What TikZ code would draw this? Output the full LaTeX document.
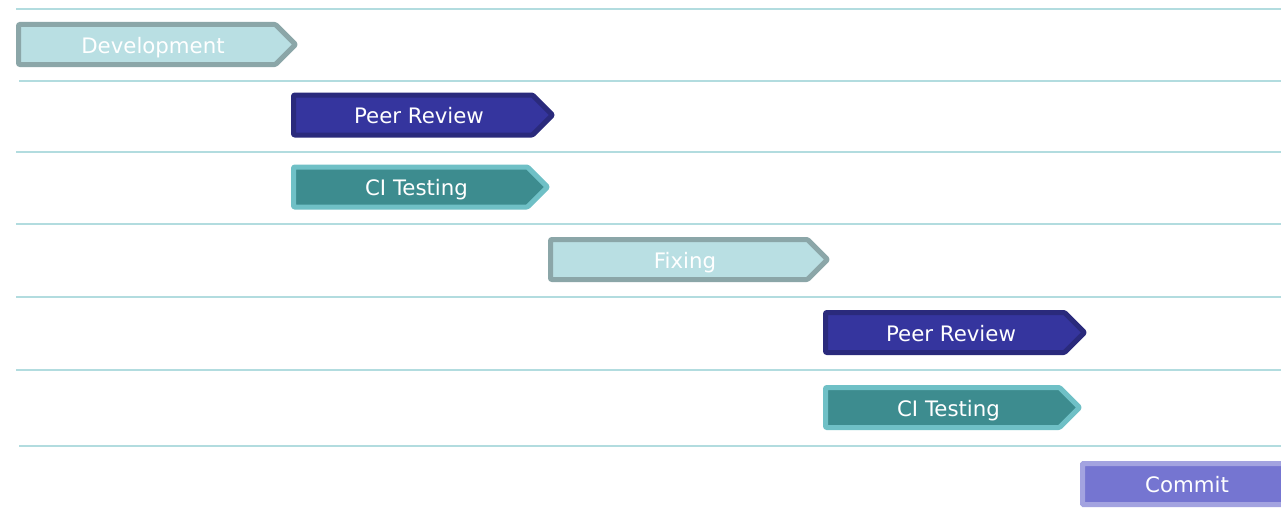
\documentclass[tikz,border=0pt]{standalone}
\usepackage{fontspec}
\setmainfont{DejaVu Sans}
\usetikzlibrary{shapes.symbols}

\definecolor{gridline}{HTML}{B2DCDF}
\definecolor{devfill}{HTML}{B9DFE3}
\definecolor{devdraw}{HTML}{8BA6A8}
\definecolor{revfill}{HTML}{35359E}
\definecolor{revdraw}{HTML}{2A2A7C}
\definecolor{cifill}{HTML}{3D8C8F}
\definecolor{cidraw}{HTML}{6FC0C6}
\definecolor{comfill}{HTML}{7575D1}
\definecolor{comdraw}{HTML}{A3A3E0}

\tikzset{
  grid line/.style={gridline, line width=2pt},
  stage/.style={signal, signal to=east, signal pointer angle=90,
    minimum height=40pt, line width=5pt, line join=round, rounded corners=1pt,
    text=white, font=\fontsize{21.3}{25}\selectfont, anchor=west, inner sep=0pt,
    text height=17pt, text depth=0pt, execute at begin node=\hspace*{12pt}},
  devstage/.style={stage, fill=devfill, draw=devdraw, minimum width=277pt},
  revstage/.style={stage, fill=revfill, draw=revdraw, minimum width=259pt},
  cistage/.style={stage, fill=cifill, draw=cidraw, minimum width=254pt},
  comstage/.style={rectangle, fill=comfill, draw=comdraw, line width=5pt,
    rounded corners=1pt, minimum height=41pt, minimum width=240pt,
    text=white, font=\fontsize{21.3}{25}\selectfont, anchor=west, inner sep=0pt,
    text height=17pt, text depth=0pt},
}

\begin{document}
\begin{tikzpicture}[x=1pt, y=-1pt]
    \useasboundingbox[fill=white] (0,0) rectangle (1281,519);
    \clip (0,0) rectangle (1281,519);
    % rows
    \draw[grid line] (16,9) -- (1281,9);
    \draw[grid line] (19,80.5) -- (1281,80.5);
    \draw[grid line] (16,152) -- (1281,152);
    \draw[grid line] (16,223.5) -- (1281,223.5);
    \draw[grid line] (16,297) -- (1281,297);
    \draw[grid line] (16,369.5) -- (1281,369.5);
    \draw[grid line] (19,446) -- (1281,446);
    % stages
    \node[devstage] (dev) at (16,44.5) {Development};
    \node[revstage] (review1) at (291,115) {Peer Review};
    \node[cistage] (ci1) at (291,187) {CI Testing};
    \node[devstage] (fix) at (548,259.5) {Fixing};
    \node[revstage] (review2) at (823,332.5) {Peer Review};
    \node[cistage] (ci2) at (823,407.5) {CI Testing};
    \node[comstage] (commit) at (1080,484) {\hspace*{-31pt}Commit};
\end{tikzpicture}
\end{document}
